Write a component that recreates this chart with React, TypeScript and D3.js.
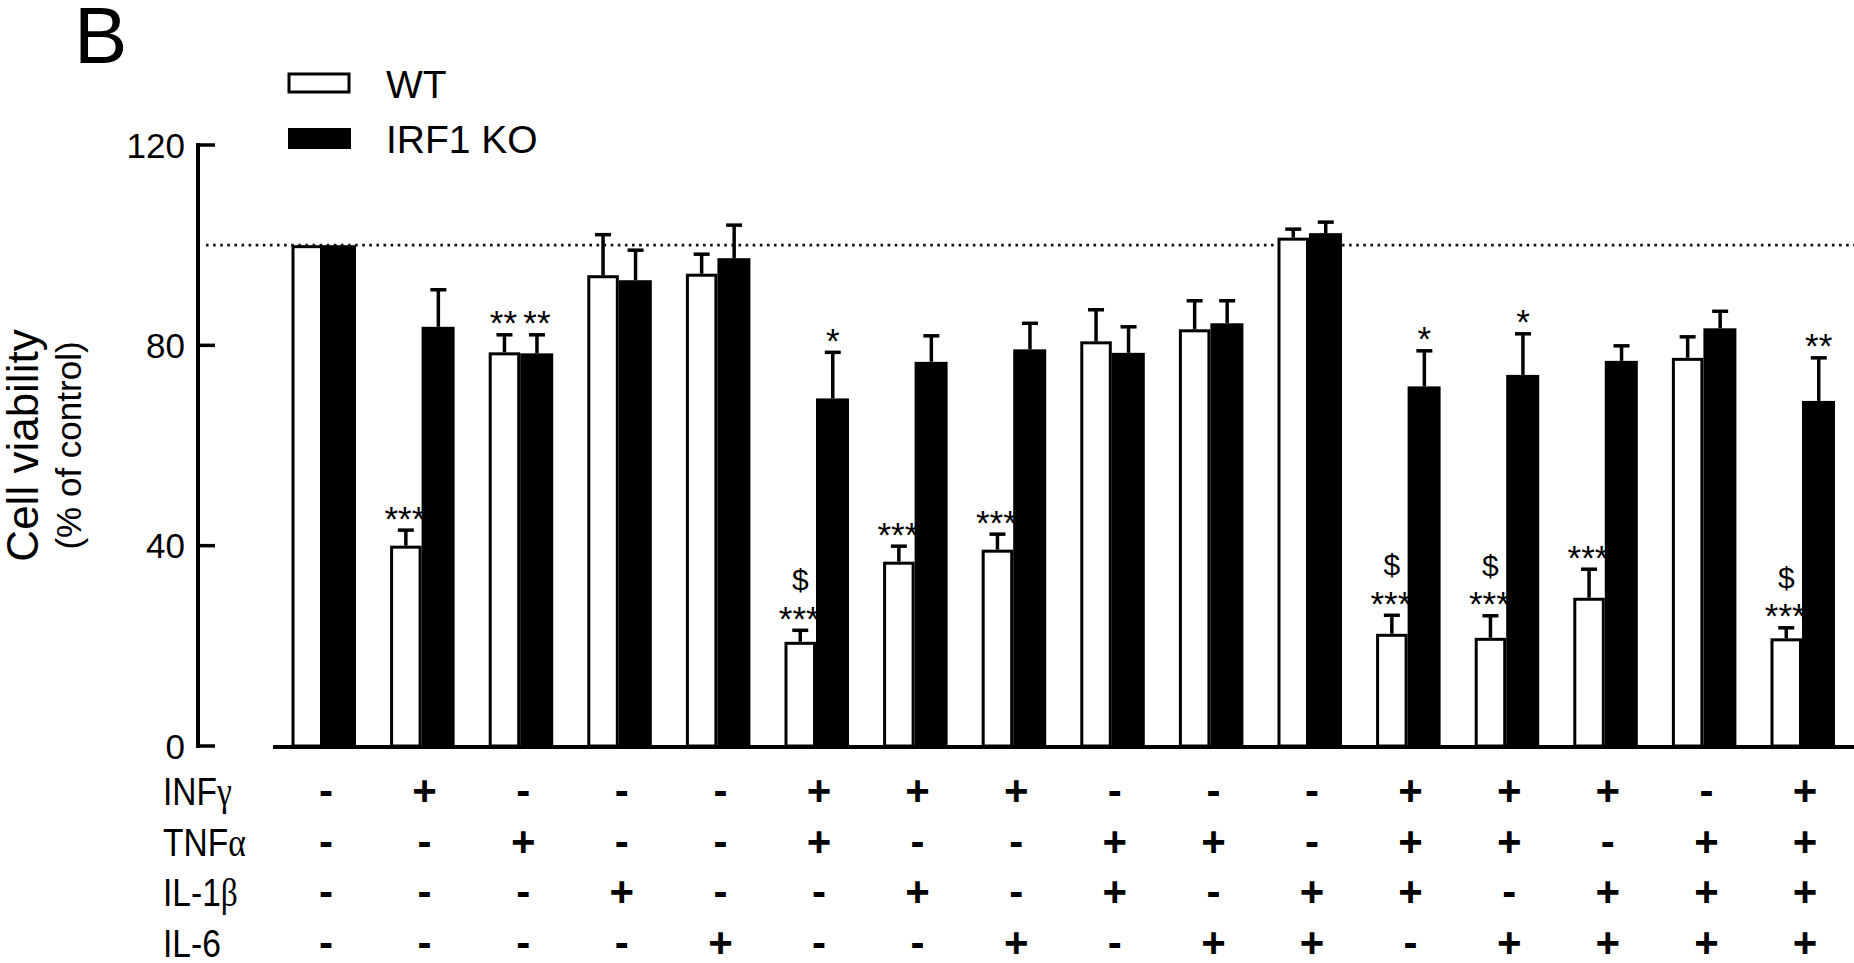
import React from "react";
import * as d3 from "d3";

// ---------- data ----------
const GROUPS = ["g1","g2","g3","g4","g5","g6","g7","g8","g9","g10","g11","g12","g13","g14","g15","g16"];
const INFG = ["-","+","-","-","-","+","+","+","-","-","-","+","+","+","-","+"];
const TNFA = ["-","-","+","-","-","+","-","-","+","+","-","+","+","-","+","+"];
const IL1B = ["-","-","-","+","-","-","+","-","+","-","+","+","-","+","+","+"];
const IL6  = ["-","-","-","-","+","-","-","+","-","+","+","-","+","+","+","+"];
const ROWS = [INFG, TNFA, IL1B, IL6];
const ROW_LABELS: [string, string][] = [["INF","γ"],["TNF","α"],["IL-1","β"],["IL-6",""]];

const SERIES = ["WT", "IRF1 KO"];
const WT_MEAN = [100, 40, 78.6, 94.0, 94.3, 20.8, 36.8, 39.2, 80.8, 83.2, 101.5, 22.4, 21.6, 29.6, 77.5, 21.5];
const WT_SEM  = [0, 3.1, 3.5, 8.1, 3.9, 2.3, 3.1, 3.1, 6.3, 5.7, 1.7, 3.7, 4.4, 5.7, 4.2, 2.1];
const KO_MEAN = [100, 83.7, 78.4, 93.0, 97.4, 69.4, 76.7, 79.2, 78.5, 84.4, 102.4, 71.8, 74.1, 76.9, 83.4, 68.9];
const KO_SEM  = [0, 7.4, 3.7, 6.0, 6.6, 9.2, 5.2, 5.2, 5.2, 4.5, 2.2, 7.1, 8.2, 3.0, 3.4, 8.6];

const WT_STARS  = ["", "***", "**", "", "", "***", "***", "***", "", "", "", "***", "***", "***", "", "***"];
const WT_DOLLAR = ["", "", "", "", "", "$", "", "", "", "", "", "$", "$", "", "", "$"];
const KO_STARS  = ["", "", "**", "", "", "*", "", "", "", "", "", "*", "*", "", "", "**"];

const Y_TICKS = [0, 40, 80, 120];
const REF_LINE = 100;

// ---------- layout ----------
const W = 1854, H = 963;
const FONT = "'Liberation Sans', Arial, Helvetica, sans-serif";
const GREEK = "'Liberation Serif', 'DejaVu Serif', serif";

export default function App() {
  const y = d3.scaleLinear().domain([0, 120]).range([746, 145]);
  const x0 = d3.scaleBand<string>().domain(GROUPS).range([291.5, 1833.5]).paddingInner(0.361).paddingOuter(0);
  const x1 = d3.scaleBand<string>().domain(SERIES).range([0, x0.bandwidth()]);
  const bw = x1.bandwidth();
  const axisX = 198;
  const y0 = y(0);

  const errBar = (cx: number, mean: number, sem: number, key: string) => {
    if (!sem) return null;
    const top = y(mean + sem);
    return (
      <g key={key} stroke="#000" strokeWidth={3.5}>
        <line x1={cx} x2={cx} y1={y(mean)} y2={top} />
        <line x1={cx - 8} x2={cx + 8} y1={top} y2={top} />
      </g>
    );
  };

  const stars = (cx: number, top: number, s: string) => (
    <text x={cx} y={top + 0.5} fontSize={35} textAnchor="middle" fill="#000">{s}</text>
  );

  return (
    <svg width={W} height={H} style={{ position: "absolute", left: 0, top: 0, background: "#fff" }} fontFamily={FONT}>
      <rect x={0} y={0} width={W} height={H} fill="#fff" />
      {/* panel letter */}
      <text x={74} y={63} fontSize={80} fill="#000">B</text>

      {/* legend */}
      <rect x={289} y={74} width={60} height={18} fill="#fff" stroke="#000" strokeWidth={3} />
      <text x={386} y={98} fontSize={39} fill="#000">{SERIES[0]}</text>
      <rect x={288} y={128} width={63} height={21} fill="#000" />
      <text x={386} y={153} fontSize={39} fill="#000">{SERIES[1]}</text>

      {/* y axis */}
      <line x1={axisX} x2={axisX} y1={y(120) - 2} y2={y0 + 2} stroke="#000" strokeWidth={4} />
      {Y_TICKS.map((t) => (
        <g key={t}>
          <line x1={axisX} x2={axisX + 17} y1={y(t)} y2={y(t)} stroke="#000" strokeWidth={3.5} />
          <text x={185} y={y(t) + 12.5} fontSize={35} textAnchor="end" fill="#000">{t}</text>
        </g>
      ))}
      <text transform={`translate(38, ${y(60)}) rotate(-90)`} fontSize={44} textAnchor="middle" fill="#000">Cell viability</text>
      <text transform={`translate(81, ${y(60)}) rotate(-90)`} fontSize={35} textAnchor="middle" fill="#000">(% of control)</text>

      {/* reference line */}
      <line x1={206} x2={W} y1={y(REF_LINE)} y2={y(REF_LINE)} stroke="#111" strokeWidth={2.8} strokeDasharray="2.6 4.5" />

      {/* bars */}
      {GROUPS.map((g, i) => {
        const gx = x0(g)!;
        const wx = gx + x1(SERIES[0])!;
        const kx = gx + x1(SERIES[1])!;
        return (
          <g key={g}>
            <rect x={wx + 1.5} y={y(WT_MEAN[i]) + 1.5} width={bw - 3} height={y0 - y(WT_MEAN[i]) - 1.5} fill="#fff" stroke="#000" strokeWidth={3} />
            <rect x={kx} y={y(KO_MEAN[i])} width={bw + 1.5} height={y0 - y(KO_MEAN[i])} fill="#000" />
            {errBar(wx + bw / 2, WT_MEAN[i], WT_SEM[i], "we")}
            {errBar(kx + bw / 2 + 1, KO_MEAN[i], KO_SEM[i], "ke")}
            {WT_STARS[i] && stars(wx + bw / 2 - 1, y(WT_MEAN[i] + WT_SEM[i]), WT_STARS[i])}
            {WT_DOLLAR[i] && (
              <text x={wx + bw / 2} y={y(WT_MEAN[i] + WT_SEM[i]) - 40} fontSize={30} textAnchor="middle" fill="#000">{WT_DOLLAR[i]}</text>
            )}
            {KO_STARS[i] && stars(kx + bw / 2 + 1, y(KO_MEAN[i] + KO_SEM[i]), KO_STARS[i])}
          </g>
        );
      })}

      {/* x axis */}
      <line x1={273} x2={W} y1={y0 + 1} y2={y0 + 1} stroke="#000" strokeWidth={4} />

      {/* treatment table */}
      {ROWS.map((row, r) => {
        const by = 805 + r * 50.7;
        return (
          <g key={r}>
            <text transform={`translate(163, ${by}) scale(0.86, 1)`} fontSize={39} fill="#000">
              {ROW_LABELS[r][0]}
              <tspan fontFamily={GREEK}>{ROW_LABELS[r][1]}</tspan>
            </text>
            {row.map((s, i) => (
              <text key={i} x={x0(GROUPS[i])! + x0.bandwidth() / 2 + 3} y={by} fontSize={42} fontWeight="bold" textAnchor="middle" fill="#000">
                {s}
              </text>
            ))}
          </g>
        );
      })}
    </svg>
  );
}
